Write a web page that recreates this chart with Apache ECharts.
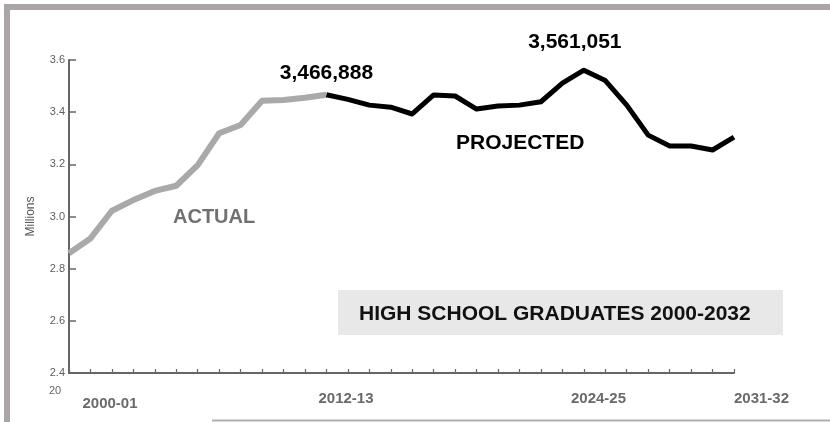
<!DOCTYPE html>
<html>
<head>
<meta charset="utf-8">
<script src="https://cdn.jsdelivr.net/npm/echarts@6/dist/echarts.min.js"></script>
<style>
  html, body { margin: 0; padding: 0; background: #fff; }
  #chart { width: 830px; height: 422px; }
</style>
</head>
<body>
<div id="chart"></div>
<script>
// ---- Data (millions of high school graduates) ----
const years = ['2000-01','2001-02','2002-03','2003-04','2004-05','2005-06','2006-07','2007-08',
  '2008-09','2009-10','2010-11','2011-12','2012-13','2013-14','2014-15','2015-16','2016-17',
  '2017-18','2018-19','2019-20','2020-21','2021-22','2022-23','2023-24','2024-25','2025-26',
  '2026-27','2027-28','2028-29','2029-30','2030-31','2031-32'];
const actual = [2.859, 2.916, 3.022, 3.063, 3.098, 3.118, 3.197, 3.319, 3.351, 3.444, 3.447, 3.455, 3.466888];
const projected = [3.466888, 3.449, 3.427, 3.419, 3.393, 3.466, 3.462, 3.412, 3.424, 3.427, 3.440,
  3.511, 3.561051, 3.521, 3.427, 3.312, 3.270, 3.270, 3.255, 3.304];
const labeledYears = ['2012-13', '2024-25'];
const xTickLabels = ['2000-01', '2012-13', '2024-25', '2031-32'];
const titleText = 'HIGH SCHOOL GRADUATES 2000-2032';
const actualText = 'ACTUAL';
const projectedText = 'PROJECTED';
const yAxisName = 'Millions';

// ---- Build ----
const FONT = "'Liberation Sans', Arial, sans-serif";
const projStart = years.length - projected.length;
const actualData = years.map((y, i) => i < actual.length ? actual[i] : '-');
const projectedData = years.map((y, i) => i < projStart ? '-' : projected[i - projStart]);

const labelOffsets = { '2012-13': [0, 0], '2024-25': [-9, 0] };
const labelDist = { '2012-13': 11, '2024-25': 17 };
const peakPoints = labeledYears.map(y => {
  const v = projectedData[years.indexOf(y)];
  return {
    coord: [y, v], value: v,
    label: { distance: labelDist[y], offset: labelOffsets[y] }
  };
});

// x tick label pixel placements (positions only)
const xLabelPos = [[110, 404], [346, 399], [598.5, 398.5], [761.5, 398.5]];

const chart = echarts.init(document.getElementById('chart'), null, { renderer: 'canvas' });
chart.setOption({
  animation: false,
  backgroundColor: '#fff',
  grid: { left: 69, right: 96, top: 60, bottom: 49, containLabel: false },
  xAxis: {
    type: 'category', data: years, boundaryGap: false,
    axisLine: { lineStyle: { color: '#666', width: 2 } },
    axisTick: { show: true, inside: true, length: 4, interval: 0, lineStyle: { color: '#666', width: 1.2 } },
    axisLabel: { show: false },
    splitLine: { show: false }
  },
  yAxis: {
    type: 'value', min: 2.4, max: 3.6, interval: 0.2,
    name: yAxisName, nameLocation: 'middle', nameGap: 32,
    nameTextStyle: { fontFamily: FONT, fontSize: 12, color: '#555' },
    axisLine: { show: true, lineStyle: { color: '#666', width: 2 } },
    axisTick: { show: true, inside: true, length: 7, lineStyle: { color: '#666', width: 1.5 } },
    axisLabel: { fontFamily: FONT, fontSize: 11, color: '#5e5e5e', margin: 4,
      formatter: v => v.toFixed(1) },
    splitLine: { show: false }
  },
  series: [
    {
      name: 'Actual', type: 'line', data: actualData, symbol: 'none', z: 2,
      lineStyle: { color: '#a9a9a9', width: 6, join: 'round' }
    },
    {
      name: 'Projected', type: 'line', data: projectedData, symbol: 'none', z: 3,
      lineStyle: { color: '#000', width: 5, join: 'round' },
      markPoint: {
        symbol: 'circle', symbolSize: 0, silent: true,
        itemStyle: { color: '#000' },
        label: {
          show: true, position: 'top',
          formatter: p => Math.round(p.value * 1e6).toLocaleString('en-US'),
          fontFamily: FONT, fontWeight: 'bold', fontSize: 21, color: '#000'
        },
        data: peakPoints
      }
    }
  ],
  graphic: [
    { type: 'rect', shape: { x: 4, y: 4, width: 826, height: 6 }, style: { fill: '#aaa6a5' }, silent: true },
    { type: 'rect', shape: { x: 4, y: 4, width: 6, height: 418 }, style: { fill: '#aaa6a5' }, silent: true },
    { type: 'rect', shape: { x: 212, y: 419.5, width: 618, height: 2 }, style: { fill: '#b0b0b0' }, silent: true },
    { type: 'rect', shape: { x: 338, y: 290, width: 445, height: 45 }, style: { fill: '#e8e8e8' }, silent: true },
    { type: 'text', style: { text: titleText, x: 359, y: 314, align: 'left', verticalAlign: 'middle',
        font: "bold 21px " + FONT, fill: '#111' } },
    { type: 'text', style: { text: actualText, x: 173, y: 217, align: 'left', verticalAlign: 'middle',
        font: "bold 20px " + FONT, fill: '#707070' } },
    { type: 'text', style: { text: projectedText, x: 456, y: 143.5, align: 'left', verticalAlign: 'middle',
        font: "bold 21px " + FONT, fill: '#000' } },
    { type: 'text', style: { text: '20', x: 55, y: 391, align: 'center', verticalAlign: 'middle',
        font: "11px " + FONT, fill: '#666' } }
  ].concat(xTickLabels.map((t, k) => ({
    type: 'text',
    style: { text: t, x: xLabelPos[k][0], y: xLabelPos[k][1], align: 'center', verticalAlign: 'middle',
      font: "bold 15px " + FONT, fill: '#6a6a6a' }
  })))
});
</script>
</body>
</html>
